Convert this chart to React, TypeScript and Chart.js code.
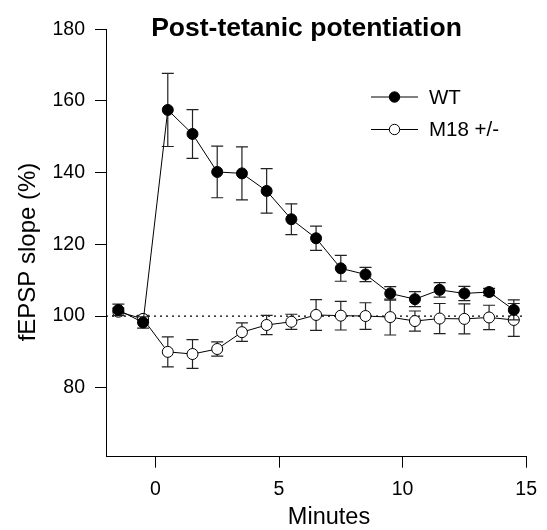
import React, { useEffect, useRef } from "react";
import { Chart, registerables } from "chart.js";

Chart.register(...registerables);

const minutes = [-1.5, -0.5, 0.5, 1.5, 2.5, 3.5, 4.5, 5.5, 6.5, 7.5, 8.5, 9.5, 10.5, 11.5, 12.5, 13.5, 14.5];
const wt = [101.7, 98.2, 157.5, 150.8, 140.2, 139.8, 134.9, 127.0, 121.7, 113.3, 111.6, 106.3, 104.7, 107.3, 106.3, 106.7, 101.7];
const wtErr = [1.6, 1.6, 10.2, 6.8, 7.2, 7.4, 6.2, 4.3, 3.4, 3.6, 2.0, 1.9, 2.1, 2.0, 2.0, 1.0, 2.8];
const m18 = [101.2, 99.2, 90.0, 89.4, 90.8, 95.5, 97.5, 98.4, 100.3, 100.1, 100.0, 99.7, 98.6, 99.3, 99.2, 99.6, 98.9];
const m18Err = [1.0, 1.0, 4.2, 4.0, 2.0, 2.6, 2.7, 2.1, 4.3, 4.0, 3.7, 5.0, 2.8, 4.2, 4.2, 3.4, 4.6];
const baselineX = [-2, 15];
const baselineY = [100, 100];
const seriesNames = ["WT", "M18 +/-"];
const titleText = "Post-tetanic potentiation";
const xTitle = "Minutes";
const yTitle = "fEPSP slope (%)";

const FONT = '"Liberation Sans", Arial, sans-serif';

const errorBars = {
  id: "errorBars",
  beforeDatasetDraw(chart: any, args: any) {
    const ds: any = chart.data.datasets[args.index];
    const errs: number[] | undefined = ds.errors;
    if (!errs) return;
    const ys = chart.scales.y;
    const ctx = chart.ctx;
    ctx.save();
    ctx.strokeStyle = "#222";
    ctx.lineWidth = 1.2;
    args.meta.data.forEach((pt: any, i: number) => {
      const v = ds.data[i].y;
      const e = errs[i];
      const x = pt.x;
      const yT = ys.getPixelForValue(v + e);
      const yB = ys.getPixelForValue(v - e);
      ctx.beginPath();
      ctx.moveTo(x, yT);
      ctx.lineTo(x, yB);
      ctx.moveTo(x - 6, yT);
      ctx.lineTo(x + 6, yT);
      ctx.moveTo(x - 6, yB);
      ctx.lineTo(x + 6, yB);
      ctx.stroke();
    });
    ctx.restore();
  },
};

const decorations = {
  id: "decorations",
  afterDraw(chart: any) {
    const ctx = chart.ctx;
    ctx.save();
    ctx.fillStyle = "#000";
    // title
    ctx.font = `bold 26.5px ${FONT}`;
    ctx.textAlign = "center";
    ctx.textBaseline = "alphabetic";
    ctx.fillText(titleText, 306.5, 36);
    // x title
    ctx.font = `23.5px ${FONT}`;
    ctx.fillText(xTitle, 329, 524);
    // y title
    ctx.save();
    ctx.translate(34.5, 252);
    ctx.rotate(-Math.PI / 2);
    ctx.font = `24px ${FONT}`;
    ctx.fillText(yTitle, 0, 0);
    ctx.restore();
    // legend
    const rows = [
      { y: 97, fill: "#000" },
      { y: 129.5, fill: "#fff" },
    ];
    rows.forEach((r, i) => {
      ctx.strokeStyle = "#000";
      ctx.lineWidth = 1;
      ctx.beginPath();
      ctx.moveTo(371, r.y);
      ctx.lineTo(418, r.y);
      ctx.stroke();
      ctx.beginPath();
      ctx.arc(394.5, r.y, 5.2, 0, Math.PI * 2);
      ctx.fillStyle = r.fill;
      ctx.fill();
      ctx.stroke();
      ctx.fillStyle = "#000";
      ctx.font = `20.5px ${FONT}`;
      ctx.textAlign = "left";
      ctx.textBaseline = "middle";
      ctx.fillText(seriesNames[i], 429, r.y + 1);
    });
    ctx.restore();
  },
};

export default function App() {
  const ref = useRef<HTMLCanvasElement | null>(null);
  useEffect(() => {
    if (!ref.current) return;
    const mk = (ys: number[]) => minutes.map((m, i) => ({ x: m, y: ys[i] }));
    const chart = new Chart(ref.current, {
      type: "line",
      data: {
        datasets: [
          {
            label: seriesNames[0],
            data: mk(wt),
            errors: wtErr,
            borderColor: "#000",
            borderWidth: 1,
            pointRadius: 5.5,
            pointBackgroundColor: "#000",
            pointBorderColor: "#000",
            pointBorderWidth: 1,
            tension: 0,
          } as any,
          {
            label: seriesNames[1],
            data: mk(m18),
            errors: m18Err,
            borderColor: "#000",
            borderWidth: 1,
            pointRadius: 5.5,
            pointBackgroundColor: "#fff",
            pointBorderColor: "#000",
            pointBorderWidth: 1,
            tension: 0,
          } as any,
          {
            label: "baseline",
            data: baselineX.map((x, i) => ({ x, y: baselineY[i] })),
            borderColor: "#000",
            borderWidth: 1.2,
            borderDash: [2, 4],
            pointRadius: 0,
          } as any,
        ],
      },
      options: {
        responsive: false,
        animation: false,
        events: [],
        layout: { padding: { left: 0, right: 13, top: 29.3, bottom: 0 } },
        plugins: { legend: { display: false }, tooltip: { enabled: false }, title: { display: false } },
        scales: {
          x: {
            type: "linear",
            min: -2,
            max: 15,
            afterFit: (s: any) => {
              s.height = 73.3;
            },
            border: { display: true, color: "#000", width: 1 },
            grid: { drawOnChartArea: false, drawTicks: true, tickLength: 11, color: "#000", tickWidth: 1 },
            ticks: {
              stepSize: 5,
              includeBounds: false,
              color: "#000",
              padding: 10,
              font: { family: FONT, size: 19.5 },
              maxRotation: 0,
            },
          },
          y: {
            type: "linear",
            min: 60.75,
            max: 180,
            afterFit: (s: any) => {
              s.width = 106;
            },
            border: { display: true, color: "#000", width: 1 },
            grid: { drawOnChartArea: false, drawTicks: true, tickLength: 11, color: "#000", tickWidth: 1 },
            ticks: {
              stepSize: 20,
              includeBounds: false,
              color: "#000",
              padding: 10,
              font: { family: FONT, size: 19.5 },
            },
          },
        },
      } as any,
      plugins: [errorBars, decorations],
    });
    return () => chart.destroy();
  }, []);
  return (
    <div style={{ position: "fixed", left: 0, top: 0, width: 547, height: 530, background: "#fff" }}>
      <canvas ref={ref} width={547} height={530} style={{ display: "block" }} />
    </div>
  );
}
